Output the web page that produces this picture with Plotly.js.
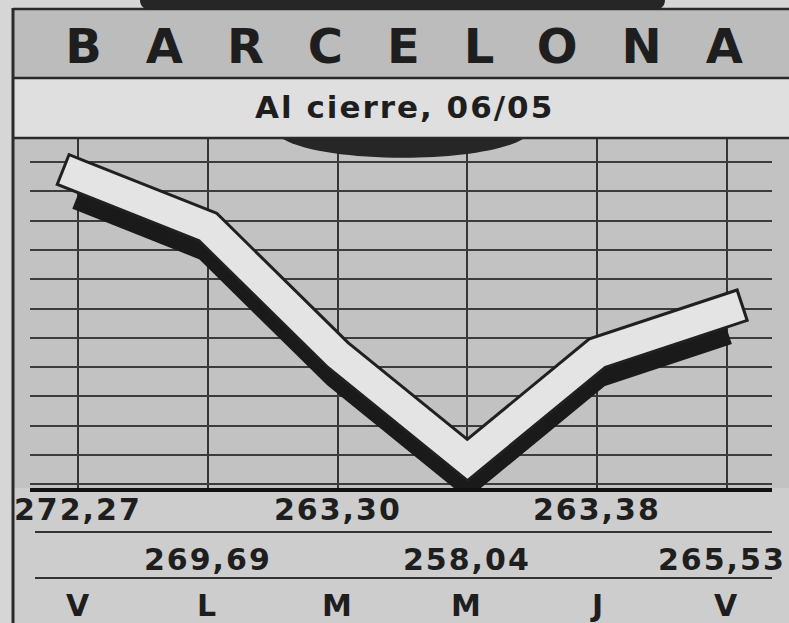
<!DOCTYPE html>
<html><head><meta charset="utf-8">
<script src="https://cdn.plot.ly/plotly-3.0.1.min.js"></script>
<style>
html,body{margin:0;padding:0;background:#d6d6d6;}
.annotation-text{letter-spacing:2px;}
.gtitle{letter-spacing:44px;}
</style></head>
<body><div id="chart" style="width:789px;height:623px;"></div>
<script>
// ---- data ----
const days = ['V', 'L', 'M', 'M', 'J', 'V'];
const closes = [272.27, 269.69, 263.30, 258.04, 263.38, 265.53];
const titleText = 'BARCELONA';
const subtitleText = 'Al cierre, 06/05';

// ---- helpers (pixel -> paper) ----
const W = 789, H = 623;
const X = px => px / W;
const Y = py => 1 - py / H;
const idx = days.map((d, i) => i);
const fmt = v => v.toFixed(2).replace('.', ',');

const yLo = 256.64, yHi = 274.14, shadowShift = 0.95;
const dark = '#2a2a2a';
const fontBase = {family: 'DejaVu Sans', weight: 'bold', color: '#1e1e1e'};

const traces = [
  {x: idx, y: closes, xaxis: 'x', yaxis: 'y', mode: 'lines', hoverinfo: 'skip',
   line: {color: '#1a1a1a', width: 31}, showlegend: false},
  {x: idx, y: closes, xaxis: 'x', yaxis: 'y2', mode: 'lines', hoverinfo: 'skip',
   line: {color: '#202020', width: 35}, showlegend: false},
  {x: idx, y: closes, xaxis: 'x', yaxis: 'y2', mode: 'lines', hoverinfo: 'skip',
   line: {color: '#e4e4e4', width: 29}, showlegend: false}
];

const annotations = [];
closes.forEach((v, i) => {
  annotations.push({x: i, xref: 'x', y: Y(i % 2 === 0 ? 509 : 559), yref: 'paper',
    yanchor: 'middle', xanchor: 'center', showarrow: false, text: fmt(v),
    xshift: i === closes.length - 1 ? -5 : 0,
    font: Object.assign({size: 30}, fontBase)});
  annotations.push({x: i, xref: 'x', y: Y(605), yref: 'paper',
    yanchor: 'middle', xanchor: 'center', showarrow: false, text: days[i],
    font: Object.assign({size: 30}, fontBase)});
});
annotations.push({x: X(404), xref: 'paper', y: Y(107), yref: 'paper',
  xanchor: 'center', yanchor: 'middle', showarrow: false, text: subtitleText,
  font: Object.assign({size: 31}, fontBase)});

const rect = (x0, y0, x1, y1, fill, layer) => ({type: 'rect', xref: 'paper', yref: 'paper',
  x0: X(x0), x1: X(x1), y0: Y(y0), y1: Y(y1), fillcolor: fill, line: {width: 0}, layer: layer || 'below'});
const hline = (x0, x1, y, w, c) => ({type: 'line', xref: 'paper', yref: 'paper',
  x0: X(x0), x1: X(x1), y0: Y(y), y1: Y(y), line: {color: c || dark, width: w}, layer: 'above'});
const P = (x, y) => X(x).toFixed(5) + ',' + Y(y).toFixed(5);

const shapes = [
  rect(13, 9, 789, 78, '#bcbcbc'),
  rect(13, 78, 789, 138, '#dfdfdf'),
  rect(13, 138, 789, 488, '#c2c2c2'),
  rect(13, 488, 789, 623, '#cdcdcd'),
  hline(13, 789, 9, 2.5),
  hline(13, 789, 78, 2.5),
  hline(13, 789, 138, 2.5),
  hline(35, 772, 532, 2, '#333'),
  hline(35, 772, 578, 2, '#333'),
  {type: 'line', xref: 'paper', yref: 'paper', x0: X(13), x1: X(13), y0: Y(8), y1: Y(623),
   line: {color: dark, width: 3}, layer: 'above'},
  {type: 'path', xref: 'paper', yref: 'paper', layer: 'above', fillcolor: '#262626', line: {width: 0},
   path: 'M' + P(140, 0) + ' L' + P(665, 0) + ' Q' + P(665, 10) + ' ' + P(652, 10) +
         ' L' + P(153, 10) + ' Q' + P(140, 10) + ' ' + P(140, 0) + ' Z'},
  {type: 'path', xref: 'paper', yref: 'paper', layer: 'above', fillcolor: '#262626', line: {width: 0},
   path: 'M' + P(283, 139) + ' L' + P(523, 139) + ' C' + P(480, 164) + ' ' + P(326, 164) + ' ' + P(283, 139) + ' Z'}
];

const layout = {
  width: W, height: H, autosize: false,
  margin: {l: 0, r: 0, t: 0, b: 0, pad: 0},
  paper_bgcolor: '#d6d6d6', plot_bgcolor: 'rgba(0,0,0,0)',
  showlegend: false,
  title: {text: titleText, x: X(426), xref: 'container', xanchor: 'center',
          y: Y(46), yref: 'container', yanchor: 'middle',
          font: {family: 'DejaVu Sans', weight: 'bold', size: 48, color: '#1e1e1e'}},
  xaxis: {domain: [X(30), X(772)], range: [-0.37, 5.347], fixedrange: true,
          showgrid: true, gridcolor: '#353535', gridwidth: 2,
          tickmode: 'linear', tick0: 0, dtick: 1, showticklabels: false, ticks: '',
          zeroline: false, showline: true, linecolor: '#111', linewidth: 4},
  yaxis: {domain: [Y(488), Y(138)], range: [yLo + shadowShift, yHi + shadowShift], fixedrange: true,
          showgrid: true, gridcolor: '#3c3c3c', gridwidth: 2,
          tickmode: 'linear', tick0: 258.29 + shadowShift, dtick: 1.465,
          showticklabels: false, ticks: '', zeroline: false, showline: false},
  yaxis2: {overlaying: 'y', range: [yLo, yHi], fixedrange: true, showgrid: false,
           showticklabels: false, ticks: '', zeroline: false, showline: false},
  annotations: annotations,
  shapes: shapes
};

Plotly.newPlot('chart', traces, layout, {staticPlot: true, displayModeBar: false}).then(() => {
  const lines = document.querySelectorAll('.scatterlayer .trace path.js-line');
  lines.forEach((p, i) => {
    p.style.strokeLinejoin = 'miter';
    if (i > 0) p.style.strokeLinecap = 'square';
  });
});
</script></body></html>
